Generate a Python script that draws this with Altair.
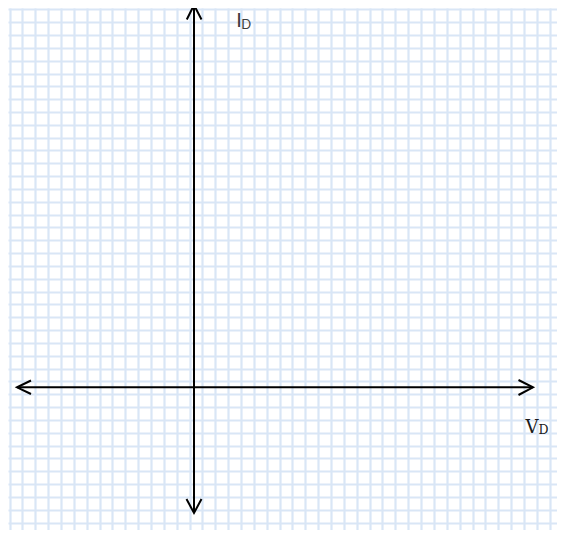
import altair as alt
import pandas as pd

# ---- coordinate frame: reference-image pixels (x to the right, y downward) ----
X_DOMAIN = [8, 557]
Y_DOMAIN = [530, 8]

# grid lines of the graph paper
grid_x = [round(9.5 + 12.86 * k, 1) for k in range(43)]
grid_y = [round(9.3 + 12.83 * k, 1) for k in range(41)]

# the two axis lines
line_name = ["vertical", "horizontal"]
line_x = [194, 17]
line_x2 = [194, 533]
line_y = [5, 387.3]
line_y2 = [513, 387.3]

# arrow heads (open chevrons): arm, tip, arm
head_id = ["top"] * 3 + ["bottom"] * 3 + ["right"] * 3 + ["left"] * 3
head_order = [0, 1, 2] * 4
head_x = [186.8, 194, 201.5, 186.5, 194, 201.5, 518.5, 533, 518.5, 31, 17, 31]
head_y = [19.5, 5, 19.5, 499, 513, 499, 380, 387.3, 395, 380.5, 387.3, 394]

# axis labels
i_text = ["I", "D"]
i_x = [236.3, 241.3]
i_y = [27, 29]
i_size = [20, 13]

v_text = ["V", "D"]
v_x = [525.5, 538.5]
v_y = [433, 434]
v_size = [18, 12.5]

sx = alt.Scale(domain=X_DOMAIN, nice=False, zero=False)
sy = alt.Scale(domain=Y_DOMAIN, nice=False, zero=False)

GRID = "#d9e6f6"
ax_x = alt.Axis(values=grid_x, grid=True, gridColor=GRID, gridWidth=2.2,
                domain=False, ticks=False, labels=False, title="")
ax_y = alt.Axis(values=grid_y, grid=True, gridColor=GRID, gridWidth=2.2,
                domain=False, ticks=False, labels=False, title="")

lines_df = pd.DataFrame({"name": line_name, "x": line_x, "x2": line_x2,
                         "y": line_y, "y2": line_y2})
heads_df = pd.DataFrame({"head": head_id, "order": head_order,
                         "x": head_x, "y": head_y})
i_df = pd.DataFrame({"t": i_text, "x": i_x, "y": i_y, "s": i_size})
v_df = pd.DataFrame({"t": v_text, "x": v_x, "y": v_y, "s": v_size})

axes_lines = alt.Chart(lines_df).mark_rule(color="black", strokeWidth=2).encode(
    x=alt.X("x:Q", scale=sx, axis=ax_x),
    x2="x2:Q",
    y=alt.Y("y:Q", scale=sy, axis=ax_y),
    y2="y2:Q",
)

heads = alt.Chart(heads_df).mark_line(
    color="black", strokeWidth=2, strokeJoin="miter", strokeCap="butt"
).encode(
    x=alt.X("x:Q", scale=sx, axis=ax_x),
    y=alt.Y("y:Q", scale=sy, axis=ax_y),
    detail="head:N",
    order="order:Q",
)

i_label = alt.Chart(i_df).mark_text(
    align="left", baseline="alphabetic", font="Lato", color="#3c3c3c"
).encode(
    x=alt.X("x:Q", scale=sx, axis=ax_x),
    y=alt.Y("y:Q", scale=sy, axis=ax_y),
    text="t:N",
    size=alt.Size("s:Q", scale=None, legend=None),
)

v_label = alt.Chart(v_df).mark_text(
    align="left", baseline="alphabetic", font="DejaVu Serif", color="#1a1a1a"
).encode(
    x=alt.X("x:Q", scale=sx, axis=ax_x),
    y=alt.Y("y:Q", scale=sy, axis=ax_y),
    text="t:N",
    size=alt.Size("s:Q", scale=None, legend=None),
)

chart = alt.layer(axes_lines, heads, i_label, v_label).properties(
    width=549, height=522,
    autosize=alt.AutoSizeParams(type="none"),
    padding=0,
    background="white",
).configure_view(stroke=None)

chart.save("out.html", embed_options={"renderer": "svg", "actions": False})
